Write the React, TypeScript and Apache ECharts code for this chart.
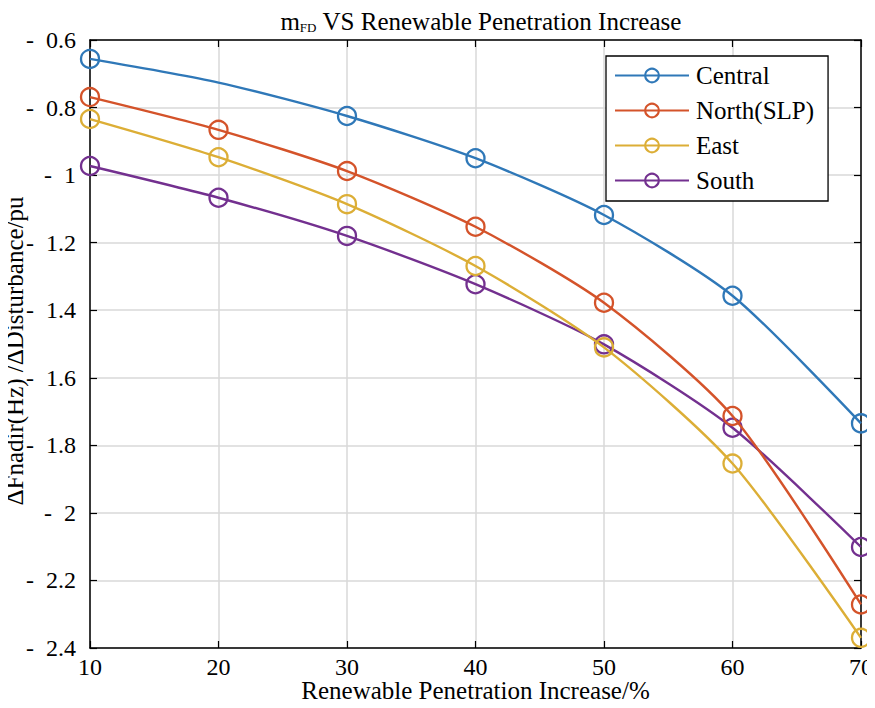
import React, { useEffect, useRef } from "react";
import * as echarts from "echarts";

const xTicks = [10, 20, 30, 40, 50, 60, 70];
const centralY = [-0.656, -0.726, -0.825, -0.95, -1.118, -1.357, -1.735];
const centralMarkers = [true, false, true, true, true, true, true];
const northY = [-0.769, -0.866, -0.988, -1.153, -1.378, -1.713, -2.271];
const eastY = [-0.834, -0.947, -1.086, -1.269, -1.51, -1.854, -2.37];
const southY = [-0.973, -1.067, -1.18, -1.323, -1.501, -1.748, -2.101];
const seriesNames = ["Central", "North(SLP)", "East", "South"];
const colors = ["#2f78b8", "#d4532a", "#dcae36", "#73308f"];

const FONT = "'Liberation Serif', 'Times New Roman', serif";

export default function App() {
  const ref = useRef<HTMLDivElement>(null);
  useEffect(() => {
    if (!ref.current) return;
    const chart = echarts.init(ref.current, undefined, { renderer: "svg" });
    const mk = (ys: number[], markers?: boolean[]) =>
      ys.map((y, i) => {
        const item: any = { value: [xTicks[i], y] };
        if (markers && !markers[i]) item.symbol = "none";
        return item;
      });
    const datasets = [mk(centralY, centralMarkers), mk(northY), mk(eastY), mk(southY)];
    const fmtY = (v: number) => {
      const a = parseFloat(Math.abs(v).toFixed(1));
      return (v < 0 ? "-\u2002" : "") + String(a);
    };
    const tick = { show: true, inside: true, length: 7, lineStyle: { color: "#000", width: 1.2 } };
    const line = { show: true, lineStyle: { color: "#000", width: 1.5 } };
    chart.setOption({
      animation: false,
      backgroundColor: "#ffffff",
      textStyle: { fontFamily: FONT },
      title: {
        text: "{m|m}{sub|FD}{t| VS Renewable Penetration Increase}",
        left: 476,
        top: -3,
        textAlign: "center",
        textStyle: {
          fontWeight: "normal",
          fontFamily: FONT,
          rich: {
            m: { fontFamily: FONT, fontSize: 25, fontWeight: "normal", color: "#000", verticalAlign: "bottom", lineHeight: 32 },
            sub: { fontFamily: FONT, fontSize: 13, fontWeight: "normal", color: "#000", verticalAlign: "bottom", lineHeight: 12 },
            t: { fontFamily: FONT, fontSize: 25, fontWeight: "normal", color: "#000", verticalAlign: "bottom", lineHeight: 32 },
          },
        },
      },
      legend: {
        show: true,
        orient: "vertical",
        left: 606,
        top: 56,
        padding: [7, 14, 8, 8],
        itemGap: 10,
        itemWidth: 74,
        itemHeight: 17,
        backgroundColor: "#ffffff",
        borderColor: "#000000",
        borderWidth: 1.3,
        borderRadius: 0,
        data: seriesNames,
        textStyle: { fontFamily: FONT, fontSize: 25, color: "#000", padding: [0, 0, 0, 2] },
      },
      grid: { left: 90, right: 14, top: 40, bottom: 60, containLabel: false, outerBoundsMode: "none" },
      xAxis: [
        {
          type: "value",
          min: 10,
          max: 70,
          interval: 10,
          position: "bottom",
          name: "Renewable Penetration Increase/%",
          nameLocation: "middle",
          nameGap: 30,
          nameMoveOverlap: false,
          nameTextStyle: { fontFamily: FONT, fontSize: 25, lineHeight: 25, color: "#000" },
          axisLine: line,
          axisTick: tick,
          axisLabel: { fontFamily: FONT, fontSize: 24, lineHeight: 22, color: "#000", margin: 8 },
          splitLine: { show: true, lineStyle: { color: "#d8d8d8", width: 1.5 } },
        },
        {
          type: "value",
          min: 10,
          max: 70,
          interval: 10,
          position: "top",
          axisLine: line,
          axisTick: tick,
          axisLabel: { show: false },
          splitLine: { show: false },
        },
      ],
      yAxis: [
        {
          type: "value",
          min: -2.4,
          max: -0.6,
          interval: 0.2,
          position: "left",
          name: "ΔFnadir(Hz) /ΔDisturbance/pu",
          nameLocation: "middle",
          nameGap: 63,
          nameMoveOverlap: false,
          nameTextStyle: { fontFamily: FONT, fontSize: 25, color: "#000", padding: [0, 14, 0, 0] },
          axisLine: line,
          axisTick: tick,
          axisLabel: { fontFamily: FONT, fontSize: 24, color: "#000", margin: 14, formatter: fmtY },
          splitLine: { show: true, lineStyle: { color: "#d8d8d8", width: 1.5 } },
        },
        {
          type: "value",
          min: -2.4,
          max: -0.6,
          interval: 0.2,
          position: "right",
          axisLine: line,
          axisTick: tick,
          axisLabel: { show: false },
          splitLine: { show: false },
        },
      ],
      series: seriesNames.map((name, i) => ({
        name,
        type: "line",
        xAxisIndex: 0,
        yAxisIndex: 0,
        data: datasets[i],
        smooth: 0.25,
        symbol: "circle",
        symbolSize: 18,
        lineStyle: { color: colors[i], width: 2.4 },
        itemStyle: { color: "rgba(255,255,255,0)", borderColor: colors[i], borderWidth: 2.3 },
        z: 10 - i,
      })),
    });
    return () => chart.dispose();
  }, []);
  return <div ref={ref} style={{ width: 875, height: 708, margin: -8 }} />;
}
